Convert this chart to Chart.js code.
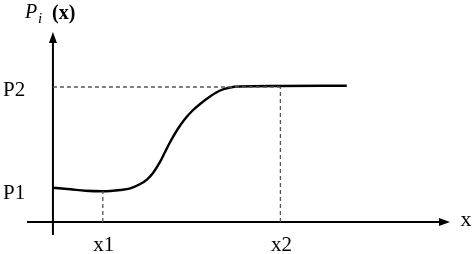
<!DOCTYPE html>
<html>
<head>
<meta charset="utf-8">
<script src="https://cdn.jsdelivr.net/npm/chart.js@4/dist/chart.umd.min.js"></script>
<style>
    html, body { margin: 0; padding: 0; background: #fff; }
    #wrap { width: 474px; height: 254px; }
</style>
</head>
<body>
<div id="wrap"><canvas id="chart"></canvas></div>
<script>
// curve P_i(x) (x: 1 unit = x1, y: arbitrary units)
const curveX = [0, 0.35, 0.65, 1.0, 1.15, 1.35, 1.55, 1.75, 1.89, 2.01, 2.15, 2.25, 2.35, 2.49, 2.63, 2.79, 2.95, 3.15, 3.35, 3.55, 3.75, 4.55, 5.89];
const curveY = [3.43, 3.27, 3.12, 3.07, 3.1, 3.2, 3.37, 3.8, 4.27, 4.93, 6.03, 7.03, 8.0, 9.2, 10.2, 11.1, 11.8, 12.55, 13.15, 13.45, 13.55, 13.6, 13.63];

// tick labels
const yTickLabels = ["P1", "P2"];
const yTickValues = [3.2, 13.5];
const xTickLabels = ["x1", "x2"];
const xTickValues = [1.0, 4.56];
const x1Level = 3.07; // curve value at x1

const axisTitleX = "x";

document.addEventListener("DOMContentLoaded", function () {
    const serif = '"Liberation Serif", "DejaVu Serif", serif';
    const guideColor = "#555";

    const curve = curveX.map((x, i) => ({ x: x, y: curveY[i] }));
    const p2Line = [{ x: 0, y: yTickValues[1] }, { x: xTickValues[1], y: yTickValues[1] }];
    const x1Line = [{ x: xTickValues[0], y: 0 }, { x: xTickValues[0], y: x1Level }];
    const x2Line = [{ x: xTickValues[1], y: 0 }, { x: xTickValues[1], y: yTickValues[1] }];

    function guide(data) {
        return {
            data: data,
            borderColor: guideColor,
            borderWidth: 1.3,
            borderDash: [4, 3],
            pointRadius: 0,
            showLine: true,
            tension: 0,
        };
    }

    // axes with arrows plus labels, placed through the scales
    const axesPlugin = {
        id: "axes",
        beforeDatasetsDraw(chart) {
            const ctx = chart.ctx;
            const a = chart.chartArea;
            const xs = chart.scales.x, ys = chart.scales.y;
            const y0 = ys.getPixelForValue(0);
            const x0 = xs.getPixelForValue(0);
            ctx.save();
            ctx.strokeStyle = "#000";
            ctx.fillStyle = "#000";
            ctx.lineWidth = 2;
            ctx.beginPath();
            ctx.moveTo(a.left, y0);
            ctx.lineTo(a.right - 8, y0);
            ctx.moveTo(x0, a.bottom);
            ctx.lineTo(x0, a.top + 8);
            ctx.stroke();
            // arrow heads
            ctx.beginPath();
            ctx.moveTo(a.right, y0);
            ctx.lineTo(a.right - 11, y0 - 4);
            ctx.lineTo(a.right - 11, y0 + 4);
            ctx.closePath();
            ctx.fill();
            ctx.beginPath();
            ctx.moveTo(x0, a.top);
            ctx.lineTo(x0 - 4, a.top + 11);
            ctx.lineTo(x0 + 4, a.top + 11);
            ctx.closePath();
            ctx.fill();

            ctx.font = "21px " + serif;
            ctx.textBaseline = "middle";
            ctx.textAlign = "left";
            yTickLabels.forEach((t, i) => {
                ctx.fillText(t, 3, ys.getPixelForValue(yTickValues[i]) + 3);
            });
            ctx.textAlign = "center";
            xTickLabels.forEach((t, i) => {
                ctx.fillText(t, xs.getPixelForValue(xTickValues[i]) + 1, 245);
            });
            ctx.font = "22px " + serif;
            ctx.fillText(axisTitleX, a.right + 16, y0 - 2);

            // y title: P_i (x)
            ctx.textAlign = "left";
            ctx.textBaseline = "alphabetic";
            ctx.font = "italic 20px " + serif;
            ctx.fillText("P", 25, 18);
            ctx.font = "italic 15px " + serif;
            ctx.fillText("i", 38, 23);
            ctx.font = "bold 20px " + serif;
            ctx.fillText("(x)", 52, 19);
            ctx.restore();
        }
    };

    new Chart(document.getElementById("chart"), {
        type: "scatter",
        data: {
            datasets: [
                guide(p2Line),
                guide(x1Line),
                guide(x2Line),
                {
                    data: curve,
                    borderColor: "#000",
                    borderWidth: 2.4,
                    pointRadius: 0,
                    showLine: true,
                    cubicInterpolationMode: "monotone",
                },
            ],
        },
        options: {
            responsive: true,
            maintainAspectRatio: false,
            animation: false,
            layout: { padding: { left: 27, right: 24, top: 32, bottom: 19 } },
            scales: {
                x: { type: "linear", display: false, min: -0.52, max: 7.96 },
                y: { type: "linear", display: false, min: -1.3, max: 19.0 },
            },
            plugins: {
                legend: { display: false },
                tooltip: { enabled: false },
            },
        },
        plugins: [axesPlugin],
    });
});
</script>
</body>
</html>
